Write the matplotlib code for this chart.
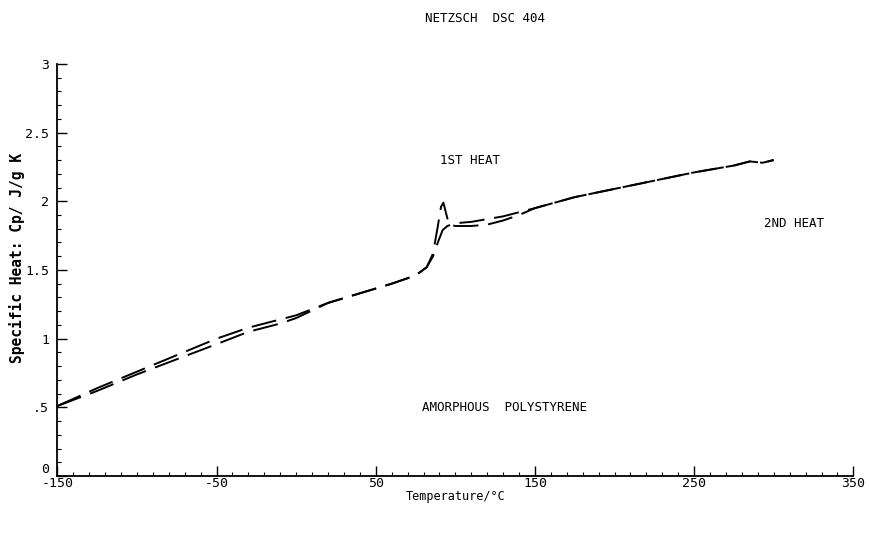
import numpy as np
import matplotlib
matplotlib.use('Agg')
import matplotlib.pyplot as plt
from matplotlib.ticker import MultipleLocator, FixedLocator

# ── Data ──
temp_first = [-150, -125, -100, -75, -50, -30, -10, 0, 20, 40, 60, 75, 82, 86, 89, 91, 92.5, 94, 96, 100, 110, 120, 130, 140, 150, 175, 200, 225, 250, 275, 285, 293, 300]
cp_first = [0.51, 0.64, 0.76, 0.88, 1.00, 1.08, 1.14, 1.17, 1.26, 1.33, 1.40, 1.46, 1.52, 1.62, 1.82, 1.96, 1.99, 1.92, 1.83, 1.82, 1.82, 1.83, 1.86, 1.90, 1.95, 2.03, 2.09, 2.15, 2.21, 2.26, 2.29, 2.28, 2.30]

temp_second = [-150, -125, -100, -75, -50, -30, -10, 0, 20, 40, 60, 75, 82, 86, 89, 92, 95, 100, 110, 120, 130, 140, 150, 175, 200, 225, 250, 275, 285, 293, 300]
cp_second = [0.51, 0.62, 0.74, 0.85, 0.96, 1.05, 1.11, 1.15, 1.26, 1.33, 1.40, 1.46, 1.52, 1.60, 1.70, 1.79, 1.82, 1.84, 1.85, 1.87, 1.89, 1.92, 1.95, 2.03, 2.09, 2.15, 2.21, 2.26, 2.29, 2.28, 2.30]

xtick_vals = [-150, -50, 50, 150, 250, 350]
xtick_labels = ['-150', '-50', '50', '150', '250', '350']
ytick_vals = [0, 0.5, 1, 1.5, 2, 2.5, 3]
ytick_labels = ['0', '.5', '1', '1.5', '2', '2.5', '3']

plt.rcParams['font.family'] = ['DejaVu Sans Mono']

fig = plt.figure(figsize=(8.69, 5.41), dpi=100)
ax = fig.add_axes([0.066, 0.12, 0.916, 0.762])

ax.plot(temp_first, cp_first, color='black', lw=1.4, dashes=(13, 5))
ax.plot(temp_second, cp_second, color='black', lw=1.4, dashes=(13, 5))

ax.set_xlim(-150, 350)
ax.set_ylim(0, 3)
ax.spines['top'].set_visible(False)
ax.spines['right'].set_visible(False)
ax.spines['left'].set_linewidth(1.3)
ax.spines['bottom'].set_linewidth(1.3)

ax.xaxis.set_major_locator(FixedLocator(xtick_vals))
ax.set_xticklabels(xtick_labels)
ax.xaxis.set_minor_locator(MultipleLocator(10))
ax.yaxis.set_major_locator(FixedLocator(ytick_vals))
ax.set_yticklabels(ytick_labels)
ax.yaxis.set_minor_locator(MultipleLocator(0.1))
ax.tick_params(which='major', direction='in', length=7, width=1.0, labelsize=9.5)
ax.tick_params(axis='x', which='major', pad=1)
ax.tick_params(axis='y', which='major', pad=6)
ax.tick_params(which='minor', direction='in', length=3, width=0.8)
# lift the y "0" so it sits clear of the "-150" below it
ax.get_yticklabels()[0].set_va('bottom')

ax.set_xlabel('Temperature/°C', fontsize=8.5, labelpad=0)
fig.text(0.019, 0.523, 'Specific Heat: Cp/ J/g K', rotation=90, ha='center', va='center',
         fontsize=10.5, fontweight='bold')

fig.text(0.558, 0.965, 'NETZSCH  DSC 404', ha='center', va='center', fontsize=9)
ax.text(109, 2.30, '1ST HEAT', ha='center', va='center', fontsize=9)
ax.text(313, 1.84, '2ND HEAT', ha='center', va='center', fontsize=9)
ax.text(131, 0.50, 'AMORPHOUS  POLYSTYRENE', ha='center', va='center', fontsize=9)

fig.savefig('out.png', dpi=100)
